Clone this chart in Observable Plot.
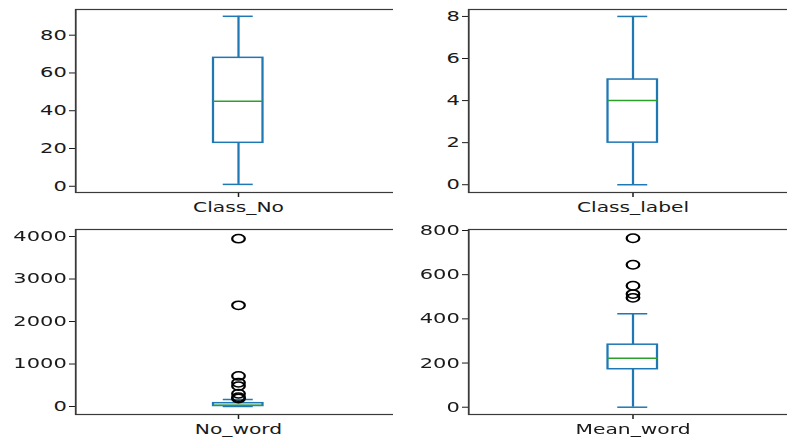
<!DOCTYPE html>
<html><head><meta charset="utf-8">
<script src="https://cdn.jsdelivr.net/npm/d3@7"></script>
<script src="https://cdn.jsdelivr.net/npm/@observablehq/plot@0.6"></script>
<style>
html,body{margin:0;padding:0;background:#fff;}
#wrap{position:relative;width:787px;height:445px;overflow:hidden;background:#fff;}
#inner{position:absolute;left:0;top:0;width:600px;height:445px;transform:scaleX(1.5);transform-origin:0 0;}
.panel{position:absolute;max-width:none !important;}
</style></head><body>
<div id="wrap"><div id="inner"></div></div>
<script>
// ---- data ----
const names = ["Class_No", "Class_label", "No_word", "Mean_word"];
const whiskerLow  = [1, 0, 1, 0];
const q1          = [23, 2, 12, 172];
const median      = [45, 4, 30, 222];
const q3          = [68, 5, 78, 283];
const whiskerHigh = [90, 8, 165, 423];
const outliersClassNo = [];
const outliersClassLabel = [];
const outliersNoWord = [190, 220, 300, 480, 560, 720, 2380, 3950];
const outliersMeanWord = [495, 512, 550, 645, 765];
const ticksClassNo = [0, 20, 40, 60, 80];
const ticksClassLabel = [0, 2, 4, 6, 8];
const ticksNoWord = [0, 1000, 2000, 3000, 4000];
const ticksMeanWord = [0, 200, 400, 600, 800];

const outliers = [outliersClassNo, outliersClassLabel, outliersNoWord, outliersMeanWord];
const ticks = [ticksClassNo, ticksClassLabel, ticksNoWord, ticksMeanWord];
const yDomains = [[-3.3, 93.6], [-0.37, 8.33], [-188, 4165], [-33, 804.5]];

// ---- style / layout ----
const blue = "#1f77b4", green = "#2ca02c";
const pos = [{left: 0, top: 0, h: 222}, {left: 262, top: 0, h: 222}, {left: 0, top: 220, h: 224}, {left: 262, top: 220, h: 224}];
const inner = document.getElementById("inner");

names.forEach((name, i) => {
  const stats = [{name, lo: whiskerLow[i], q1: q1[i], med: median[i], q3: q3[i], hi: whiskerHigh[i]}];
  const pts = outliers[i].map(v => ({name, v}));
  const chart = Plot.plot({
    width: 274, height: pos[i].h,
    marginLeft: 50, marginRight: i % 2 === 0 ? 6 : 5, marginTop: 9, marginBottom: 30,
    style: {fontFamily: "DejaVu Sans", fontSize: "14px", color: "#1a1a1a", background: "white", overflow: "visible"},
    x: {type: "band", domain: [name], padding: 0.735, label: null, tickSize: 5, tickPadding: 5},
    y: {domain: yDomains[i], ticks: ticks[i], tickFormat: d => String(d), label: null, tickSize: 4, tickPadding: 2},
    marks: [
      Plot.ruleX(stats, {x: "name", y1: "lo", y2: "q1", stroke: blue, strokeWidth: 1.5}),
      Plot.ruleX(stats, {x: "name", y1: "q3", y2: "hi", stroke: blue, strokeWidth: 1.5}),
      Plot.tickY(stats, {x: "name", y: "lo", stroke: blue, strokeWidth: 1.5, inset: 6.5}),
      Plot.tickY(stats, {x: "name", y: "hi", stroke: blue, strokeWidth: 1.5, inset: 6.5}),
      Plot.barY(stats, {x: "name", y1: "q1", y2: "q3", fill: "white", stroke: blue, strokeWidth: 1.5}),
      Plot.tickY(stats, {x: "name", y: "med", stroke: green, strokeWidth: 1.5}),
      Plot.dot(pts, {x: "name", y: "v", r: 4.2, stroke: "black", strokeWidth: 1.5, fill: "none"}),
      Plot.frame({stroke: "#3a3a3a", strokeWidth: 1.2})
    ]
  });
  chart.classList.add("panel");
  chart.style.left = pos[i].left + "px";
  chart.style.top = pos[i].top + "px";
  chart.querySelectorAll('[aria-label="x-axis tick label"] text').forEach(t => t.style.fontSize = "13.5px");
  inner.appendChild(chart);
});
</script>
</body></html>
